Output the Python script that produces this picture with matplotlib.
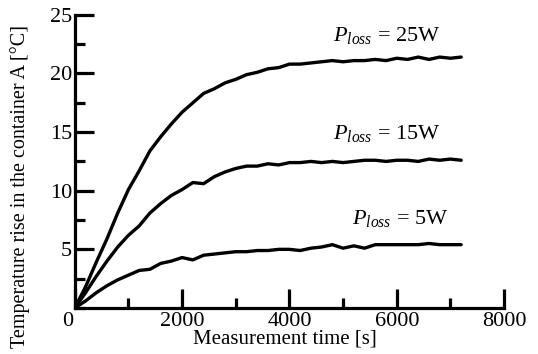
import numpy as np
import matplotlib
matplotlib.use('Agg')
import matplotlib.pyplot as plt
import matplotlib.transforms as mtransforms
from matplotlib.ticker import MultipleLocator, FixedLocator

plt.rcParams['font.family'] = ['Liberation Serif', 'DejaVu Serif']
plt.rcParams['mathtext.fontset'] = 'custom'
plt.rcParams['mathtext.rm'] = 'Liberation Serif'
plt.rcParams['mathtext.it'] = 'Liberation Serif:italic'

# --- DATA ---
time_s = list(range(0, 7201, 200))

temp_25w = [0.0, 1.8, 3.9, 5.9, 8.1, 10.1, 11.7, 13.4, 14.6, 15.7,
            16.7, 17.5, 18.3, 18.7, 19.2, 19.5, 19.9, 20.1, 20.4, 20.5,
            20.8, 20.8, 20.9, 21.0, 21.1, 21.0, 21.1, 21.1, 21.2, 21.1,
            21.3, 21.2, 21.4, 21.2, 21.4, 21.3, 21.4]

temp_15w = [0.0, 1.3, 2.7, 4.0, 5.2, 6.2, 7.0, 8.1, 8.9, 9.6,
            10.1, 10.7, 10.6, 11.2, 11.6, 11.9, 12.1, 12.1, 12.3, 12.2,
            12.4, 12.4, 12.5, 12.4, 12.5, 12.4, 12.5, 12.6, 12.6, 12.5,
            12.6, 12.6, 12.5, 12.7, 12.6, 12.7, 12.6]

temp_5w = [0.0, 0.6, 1.3, 1.9, 2.4, 2.8, 3.2, 3.3, 3.8, 4.0,
           4.3, 4.1, 4.5, 4.6, 4.7, 4.8, 4.8, 4.9, 4.9, 5.0,
           5.0, 4.9, 5.1, 5.2, 5.4, 5.1, 5.3, 5.1, 5.4, 5.4,
           5.4, 5.4, 5.4, 5.5, 5.4, 5.4, 5.4]

labels = [r'$P_{loss}$ = 25W', r'$P_{loss}$ = 15W', r'$P_{loss}$ = 5W']
label_pos = [(5820, 23.2), (5820, 14.9), (6060, 7.6)]

x_ticks = [0, 2000, 4000, 6000, 8000]
y_ticks = [5, 10, 15, 20, 25]

fig = plt.figure(figsize=(5.38, 3.54), dpi=100)
ax = fig.add_axes([0.139, 0.13, 0.798, 0.828])

for series in (temp_25w, temp_15w, temp_5w):
    ax.plot(time_s, series, color='black', linewidth=2.4, solid_capstyle='round')

for text, (tx, ty) in zip(labels, label_pos):
    ax.text(tx, ty, text, fontsize=16, ha='center', va='center')

ax.set_xlim(0, 8000)
ax.set_ylim(0, 25)
ax.xaxis.set_major_locator(FixedLocator(x_ticks))
ax.xaxis.set_minor_locator(MultipleLocator(1000))
ax.yaxis.set_major_locator(FixedLocator(y_ticks))
ax.yaxis.set_minor_locator(MultipleLocator(2.5))

ax.spines['top'].set_visible(False)
ax.spines['right'].set_visible(False)
for side in ('left', 'bottom'):
    ax.spines[side].set_linewidth(2.3)

ax.tick_params(which='major', direction='in', length=14, width=2.3, labelsize=16)
ax.tick_params(which='minor', direction='in', length=7.5, width=2.3)
ax.tick_params(axis='y', pad=2)
ax.tick_params(axis='x', pad=3)

# the "0" at the origin sits a little left of the corner
shift = mtransforms.ScaledTranslation(-0.07, 0, fig.dpi_scale_trans)
zero_label = ax.get_xticklabels()[0]
zero_label.set_transform(zero_label.get_transform() + shift)

ax.set_xlabel('Measurement time [s]', fontsize=15)
ax.set_ylabel('Temperature rise in the container A [°C]', fontsize=14.5)
ax.xaxis.set_label_coords(0.49, -0.075)
ax.yaxis.set_label_coords(-0.105, 0.413)

fig.savefig('out.png', dpi=100)
